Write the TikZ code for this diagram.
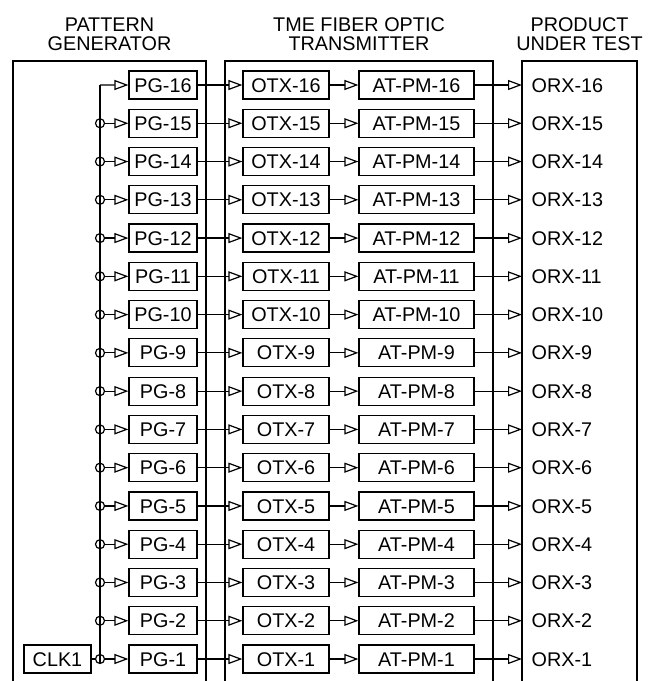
\documentclass[tikz,border=0pt]{standalone}
\usepackage{fontspec}
\setmainfont{Liberation Sans}
\usetikzlibrary{arrows.meta}
\begin{document}
\begin{tikzpicture}[x=1pt,y=-1pt,line width=1.2pt,
  font=\fontsize{19.8}{19}\selectfont,
  box/.style={draw,minimum height=28pt,inner sep=0pt,text height=14.2pt,text depth=0pt},
  lbl/.style={anchor=west,inner ysep=0pt,inner xsep=9pt,text height=14.2pt,text depth=0pt},
  junc/.style={circle,draw,minimum size=9pt,inner sep=0pt},
  arr/.style={-{Triangle[open,length=14pt,width=10pt]}},
  head/.style={align=center,anchor=north,inner sep=0pt}]
\useasboundingbox (0,0) rectangle (656,681);
% headings
\node[head] (hpg) at (109.5,17) {PATTERN\\GENERATOR};
\node[head] (htx) at (359,17) {TME FIBER OPTIC\\TRANSMITTER};
\node[head] (hput) at (579.5,17) {PRODUCT\\UNDER TEST};
% enclosures (open at the bottom)
\draw (13,681) -- (13,61) -- (206,61) -- (206,681);
\draw (225,681) -- (225,61) -- (493,61) -- (493,681);
\draw (522,681) -- (522,61) -- (637,61) -- (637,681);
% rows
\foreach \k in {1,...,16}{
  \pgfmathsetmacro\yy{659-(\k-1)*38.2667}
  \node[box,minimum width=68pt] (pg\k) at (163,\yy) {PG-\k};
  \node[box,minimum width=86pt] (otx\k) at (286,\yy) {OTX-\k};
  \node[box,minimum width=115pt] (at\k) at (416.5,\yy) {AT-PM-\k};
  \node[lbl] (orx\k) at (522,\yy) {ORX-\k};
  \draw[arr] (pg\k.east) -- (otx\k.west);
  \draw[arr] (otx\k.east) -- (at\k.west);
  \draw[arr] (at\k.east) -- (orx\k.west);
}
\coordinate (bus16) at (100,85);
\draw[arr] (bus16) -- (pg16.west);
\foreach \k in {1,...,15}{
  \pgfmathsetmacro\yy{659-(\k-1)*38.2667}
  \node[junc] (j\k) at (100,\yy) {};
  \draw[arr] (j\k.east) -- (pg\k.west);
}
\draw (bus16) -- (j1.south);
\node[box,minimum width=67pt] (clk) at (57.5,659) {CLK1};
\draw (clk.east) -- (j1.west);
\end{tikzpicture}
\end{document}
